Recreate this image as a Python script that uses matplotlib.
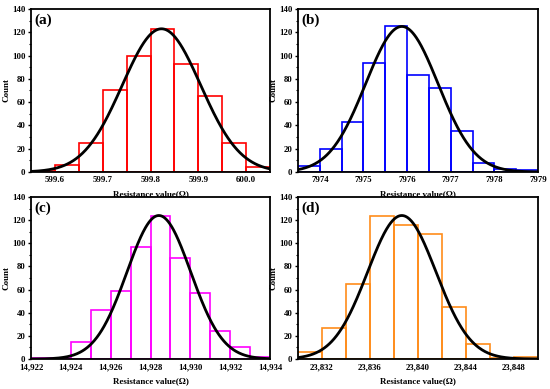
import numpy as np
import matplotlib
matplotlib.use("Agg")
import matplotlib.pyplot as plt
from matplotlib.ticker import FuncFormatter, MultipleLocator

plt.rcParams["font.family"] = ["Liberation Serif", "DejaVu Serif"]
plt.rcParams["font.weight"] = "bold"

# histogram data (left bin edges, bin width, counts)
a_start, a_width = 599.55, 0.05
a_counts = [1, 6, 25, 70, 100, 123, 93, 65, 25, 4]
b_start, b_width = 7973.5, 0.5
b_counts = [5, 20, 43, 94, 125, 83, 72, 35, 8, 3, 2]
c_start, c_width = 14922, 1
c_counts = [1, 1, 15, 42, 59, 97, 124, 87, 57, 24, 10, 2]
d_start, d_width = 23830, 2
d_counts = [6, 27, 65, 124, 116, 108, 45, 13, 1, 2]

# gaussian fit: (peak, mean, sigma)
a_fit = (123, 599.823, 0.082)
b_fit = (125, 7975.88, 0.83)
c_fit = (124, 14928.42, 1.6)
d_fit = (124, 23838.65, 2.85)

a_ticks = [599.6, 599.7, 599.8, 599.9, 600.0]
b_ticks = [7974, 7975, 7976, 7977, 7978, 7979]
c_ticks = [14922, 14924, 14926, 14928, 14930, 14932, 14934]
d_ticks = [23832, 23836, 23840, 23844, 23848]

panels = [
    ("(a)", a_start, a_width, a_counts, a_fit, a_ticks, "#ff0000", (599.55, 600.05), "{:.1f}"),
    ("(b)", b_start, b_width, b_counts, b_fit, b_ticks, "#0000ff", (7973.5, 7979), "{:.0f}"),
    ("(c)", c_start, c_width, c_counts, c_fit, c_ticks, "#ff00ff", (14922, 14934), "{:,.0f}"),
    ("(d)", d_start, d_width, d_counts, d_fit, d_ticks, "#ff8c1a", (23830, 23850), "{:,.0f}"),
]

# axes boxes in pixels: left, top, right, bottom
W, H = 550, 389
boxes = [(31, 9, 270, 172), (298, 9, 538, 172), (31, 197, 270, 359), (298, 197, 538, 359)]

fig = plt.figure(figsize=(W / 100, H / 100), dpi=100)

for (label, start, width, counts, fit, ticks, color, xlim, fmt), (l, t, r, b) in zip(panels, boxes):
    ax = fig.add_axes([l / W, 1 - b / H, (r - l) / W, (b - t) / H])
    edges = start + width * np.arange(len(counts))
    ax.bar(edges, counts, width=width, align="edge", fill=False,
           edgecolor=color, linewidth=1.2)
    peak, mu, sig = fit
    xs = np.linspace(xlim[0], xlim[1], 400)
    ax.plot(xs, peak * np.exp(-(xs - mu) ** 2 / (2 * sig ** 2)), color="black", lw=2)
    ax.set_xlim(xlim)
    ax.set_ylim(0, 140)
    ax.set_xticks(ticks)
    ax.xaxis.set_major_formatter(FuncFormatter(lambda v, p, f=fmt: f.format(v)))
    ax.set_yticks(range(0, 141, 20))
    ax.yaxis.set_minor_locator(MultipleLocator(10))
    ax.tick_params(axis="x", direction="in", length=0, labelsize=6.3, pad=3)
    ax.tick_params(axis="y", which="major", direction="out", length=2.5, width=1, labelsize=6.3, pad=1.5)
    ax.tick_params(axis="y", which="minor", direction="out", length=1.5, width=0.8)
    for s in ax.spines.values():
        s.set_linewidth(1.3)
    ax.set_ylabel("Count", fontsize=6.5, fontweight="bold", labelpad=1)
    ax.set_xlabel("Resistance value(\u03a9)", fontsize=6.5, fontweight="bold", labelpad=4)
    ax.text(0.015, 0.975, label, transform=ax.transAxes, fontsize=11,
            fontweight="bold", va="top", ha="left")

fig.savefig("out.png", dpi=100)
